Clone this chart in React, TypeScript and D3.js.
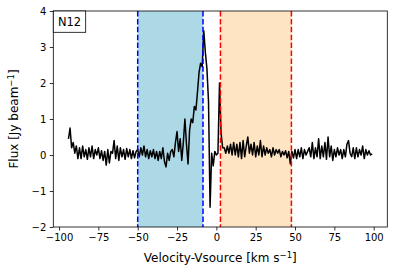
import React, { useEffect, useRef } from "react";
import * as d3 from "d3";

// channel velocities: first channel and spacing (km/s)
const velStart = -94;
const velStep = 1;

// flux per channel [Jy/beam]
const flux = [
  // -94 .. -51
  0.45, 0.75, 0.2, 0.35, 0.05, 0.25, -0.1, 0.2, -0.1, 0.25,
  -0.05, 0.15, -0.12, 0.2, -0.05, 0.25, -0.1, 0.15, 0.0, 0.2,
  -0.1, 0.12, -0.15, 0.1, -0.28, 0.15, -0.22, 0.1, 0.05, 0.4,
  -0.1, 0.25, -0.15, 0.2, -0.05, 0.15, -0.12, 0.18, -0.05, 0.15,
  -0.1, 0.12, -0.08, 0.1,
  // -50 .. -21
  0.15, -0.05, 0.2, 0.0, 0.25, -0.05, 0.15, -0.1, 0.12, -0.05,
  0.15, -0.1, 0.1, -0.15, 0.1, -0.1, 0.2, -0.18, -0.33, 0.05,
  -0.15, 0.1, 0.15, -0.05, 0.35, 0.65, 0.1, 0.45, -0.15, 0.35,
  // -20 .. 4
  1.0, 0.3, -0.25, 0.7, 1.0, 0.9, 1.35, 1.25, 1.75, 2.3,
  2.55, 2.45, 3.45, 2.85, 2.4, 1.5, -1.45, 0.05, -0.3, 0.1,
  0.0, 0.05, 2.0, 0.6, 0.2,
  // 5 .. 47
  0.2, 0.05, 0.25, 0.05, 0.3, 0.0, 0.35, 0.0, 0.3, -0.05,
  0.35, -0.1, 0.4, -0.05, 0.25, 0.5, 0.05, 0.3, 0.0, 0.35,
  -0.05, 0.25, 0.0, 0.4, -0.05, 0.25, 0.0, 0.2, 0.05, 0.15,
  -0.05, 0.2, 0.0, 0.15, 0.05, 0.15, -0.05, 0.1, 0.0, 0.12,
  -0.08, 0.1, -0.25,
  // 48 .. 99
  0.1, -0.08, 0.15, -0.1, 0.15, -0.05, 0.2, -0.1, 0.15, 0.0,
  0.1, 0.2, -0.05, 0.35, -0.1, 0.2, -0.05, 0.45, -0.1, 0.25,
  -0.05, 0.35, -0.12, 0.5, -0.05, 0.25, -0.15, 0.15, -0.05, 0.2,
  0.0, 0.15, -0.1, 0.15, -0.05, 0.3, 0.4, 0.05, -0.05, 0.2,
  -0.1, 0.2, -0.05, 0.15, 0.0, 0.25, -0.1, 0.15, 0.0, 0.12,
  0.0, 0.03,
];

// integration windows [km/s]
const blueWindow = [-50, -8.5];
const redWindow = [2.6, 47.7];

const xTicks = [-100, -75, -50, -25, 0, 25, 50, 75, 100];
const yTicks = [-2, -1, 0, 1, 2, 3, 4];
const label = "N12";

const width = 394;
const height = 276;
const margin = { top: 11, right: 6.7, bottom: 49, left: 53.3 };

const fmt = (d: number) => (d < 0 ? "\u2212" + Math.abs(d) : String(d));

const App = () => {
  const ref = useRef<SVGSVGElement>(null);

  useEffect(() => {
    const svg = d3.select(ref.current);
    svg.selectAll("*").remove();

    const data = flux.map((f, i) => ({ v: velStart + i * velStep, f }));
    const vExt = d3.extent(data, (d) => d.v) as [number, number];
    const pad = (vExt[1] - vExt[0]) * 0.05;

    const x = d3
      .scaleLinear()
      .domain([vExt[0] - pad, vExt[1] + pad])
      .range([margin.left, width - margin.right]);
    const y = d3
      .scaleLinear()
      .domain([-2, 4])
      .range([height - margin.bottom, margin.top]);

    const font = "DejaVu Sans, sans-serif";

    // shaded windows
    svg.append("rect")
      .attr("x", x(blueWindow[0]))
      .attr("y", y(4))
      .attr("width", x(blueWindow[1]) - x(blueWindow[0]))
      .attr("height", y(-2) - y(4))
      .attr("fill", "#add8e6");
    svg.append("rect")
      .attr("x", x(redWindow[0]))
      .attr("y", y(4))
      .attr("width", x(redWindow[1]) - x(redWindow[0]))
      .attr("height", y(-2) - y(4))
      .attr("fill", "#ffe4c4");

    // spectrum
    const line = d3
      .line<{ v: number; f: number }>()
      .x((d) => x(d.v))
      .y((d) => y(d.f));
    svg.append("path")
      .datum(data)
      .attr("d", line)
      .attr("fill", "none")
      .attr("stroke", "black")
      .attr("stroke-width", 1.5)
      .attr("stroke-linejoin", "round");

    // window edges
    const edges = [
      { v: blueWindow[0], c: "blue" },
      { v: blueWindow[1], c: "blue" },
      { v: redWindow[0], c: "red" },
      { v: redWindow[1], c: "red" },
    ];
    svg.selectAll(".edge")
      .data(edges)
      .enter()
      .append("line")
      .attr("x1", (d) => x(d.v))
      .attr("x2", (d) => x(d.v))
      .attr("y1", y(4))
      .attr("y2", y(-2))
      .attr("stroke", (d) => d.c)
      .attr("stroke-width", 1.5)
      .attr("stroke-dasharray", "5.5,2.4");

    // axes
    const xAxis = svg.append("g")
      .attr("transform", `translate(0,${y(-2)})`)
      .call(d3.axisBottom(x).tickValues(xTicks).tickSize(3.5).tickPadding(3.5).tickFormat((d) => fmt(+d)));
    const yAxis = svg.append("g")
      .attr("transform", `translate(${margin.left},0)`)
      .call(d3.axisLeft(y).tickValues(yTicks).tickSize(3.5).tickPadding(3.5).tickFormat((d) => fmt(+d)));
    [xAxis, yAxis].forEach((g) => {
      g.select(".domain").remove();
      g.selectAll("line").attr("stroke", "black").attr("stroke-width", 0.8);
      g.selectAll("text")
        .attr("fill", "black")
        .style("font-family", font)
        .style("font-size", "10px");
    });

    // frame
    svg.append("rect")
      .attr("x", margin.left)
      .attr("y", margin.top)
      .attr("width", width - margin.left - margin.right)
      .attr("height", height - margin.top - margin.bottom)
      .attr("fill", "none")
      .attr("stroke", "black")
      .attr("stroke-width", 0.8);

    // label box
    svg.append("rect")
      .attr("x", margin.left)
      .attr("y", margin.top)
      .attr("width", 32.4)
      .attr("height", 21.3)
      .attr("fill", "white")
      .attr("stroke", "black")
      .attr("stroke-width", 0.8);
    svg.append("text")
      .attr("x", margin.left + 16.2)
      .attr("y", margin.top + 15.2)
      .attr("text-anchor", "middle")
      .style("font-family", font)
      .style("font-size", "11.5px")
      .text(label);

    // axis titles
    const xl = svg.append("text")
      .attr("x", (margin.left + width - margin.right) / 2)
      .attr("y", 262)
      .attr("text-anchor", "middle")
      .style("font-family", font)
      .style("font-size", "12px");
    xl.append("tspan").text("Velocity-Vsource [km s");
    xl.append("tspan").attr("dy", -4.5).style("font-size", "8.5px").text("\u22121");
    xl.append("tspan").attr("dy", 4.5).text("]");

    const yl = svg.append("text")
      .attr("transform", `translate(18,${(margin.top + height - margin.bottom) / 2}) rotate(-90)`)
      .attr("text-anchor", "middle")
      .style("font-family", font)
      .style("font-size", "12px");
    yl.append("tspan").text("Flux [Jy beam");
    yl.append("tspan").attr("dy", -4.5).style("font-size", "8.5px").text("\u22121");
    yl.append("tspan").attr("dy", 4.5).text("]");
  }, []);

  return (
    <svg
      ref={ref}
      width={width}
      height={height}
      style={{ position: "absolute", left: 0, top: 0, background: "white" }}
    />
  );
};

export default App;
